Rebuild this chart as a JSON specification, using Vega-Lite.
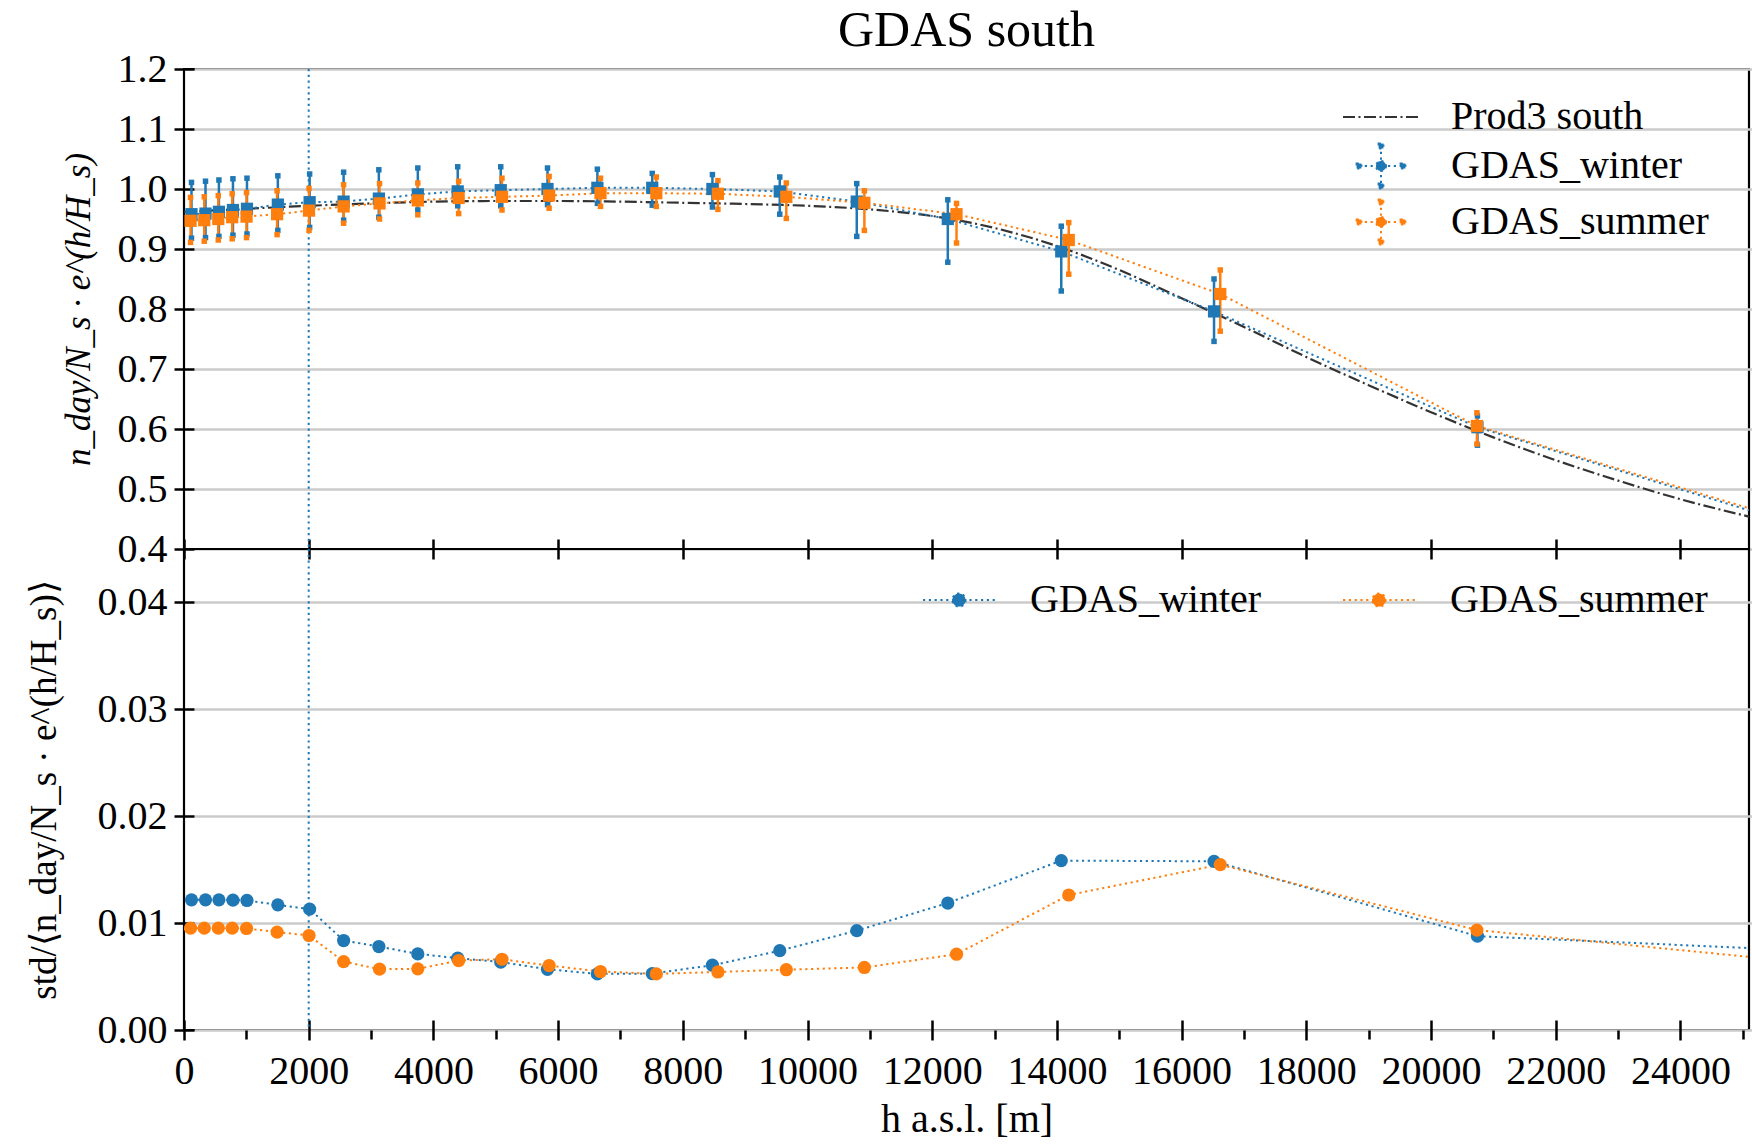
{
  "$schema": "https://vega.github.io/schema/vega-lite/v6.json",
  "autosize": {"type": "pad"},
  "padding": {"left": 23, "top": 5, "right": 3, "bottom": 0},
  "background": "white",
  "title": {"text": "GDAS south", "font": "Liberation Serif", "fontSize": 50, "fontWeight": "normal", "color": "black", "anchor": "middle", "frame": "group", "offset": -8},
  "spacing": 0,
  "bounds": "flush",
  "resolve": {"scale": {"color": "independent", "strokeDash": "independent"}, "legend": {"color": "independent"}},
  "config": {
    "view": {"stroke": "black", "strokeWidth": 2.2},
    "axis": {"domain": false, "labelFont": "Liberation Serif", "labelFontSize": 40, "labelColor": "black", "titleFont": "Liberation Serif", "titleFontSize": 38, "titleFontWeight": "normal", "titleColor": "black", "tickColor": "black", "tickWidth": 2.5, "tickSize": 20, "offset": -10, "grid": false, "gridColor": "#cbcbcb", "gridWidth": 2.5}
  },
  "datasets": {
    "prod3": [
      {"series": "Prod3 south", "h": 0, "v": 0.962},
      {"series": "Prod3 south", "h": 1000, "v": 0.967},
      {"series": "Prod3 south", "h": 2000, "v": 0.972},
      {"series": "Prod3 south", "h": 3000, "v": 0.976},
      {"series": "Prod3 south", "h": 4000, "v": 0.979},
      {"series": "Prod3 south", "h": 5000, "v": 0.980},
      {"series": "Prod3 south", "h": 6000, "v": 0.980},
      {"series": "Prod3 south", "h": 7000, "v": 0.979},
      {"series": "Prod3 south", "h": 8000, "v": 0.977},
      {"series": "Prod3 south", "h": 9000, "v": 0.975},
      {"series": "Prod3 south", "h": 10000, "v": 0.972},
      {"series": "Prod3 south", "h": 11000, "v": 0.966},
      {"series": "Prod3 south", "h": 12000, "v": 0.955},
      {"series": "Prod3 south", "h": 13000, "v": 0.935},
      {"series": "Prod3 south", "h": 14000, "v": 0.905},
      {"series": "Prod3 south", "h": 15000, "v": 0.865},
      {"series": "Prod3 south", "h": 16000, "v": 0.818},
      {"series": "Prod3 south", "h": 17000, "v": 0.770},
      {"series": "Prod3 south", "h": 18000, "v": 0.720},
      {"series": "Prod3 south", "h": 19000, "v": 0.673},
      {"series": "Prod3 south", "h": 20000, "v": 0.628},
      {"series": "Prod3 south", "h": 21000, "v": 0.586},
      {"series": "Prod3 south", "h": 22000, "v": 0.548},
      {"series": "Prod3 south", "h": 23000, "v": 0.514},
      {"series": "Prod3 south", "h": 24000, "v": 0.483},
      {"series": "Prod3 south", "h": 25100, "v": 0.454}
    ],
    "gdas": [
      {"series": "GDAS_winter", "h": 120, "v": 0.958, "lo": 0.918, "hi": 1.011, "s": 0.01218},
      {"series": "GDAS_winter", "h": 345, "v": 0.959, "lo": 0.919, "hi": 1.013, "s": 0.01218},
      {"series": "GDAS_winter", "h": 560, "v": 0.962, "lo": 0.921, "hi": 1.015, "s": 0.01218},
      {"series": "GDAS_winter", "h": 785, "v": 0.965, "lo": 0.923, "hi": 1.017, "s": 0.01215},
      {"series": "GDAS_winter", "h": 1010, "v": 0.967, "lo": 0.925, "hi": 1.018, "s": 0.01212},
      {"series": "GDAS_winter", "h": 1505, "v": 0.974, "lo": 0.931, "hi": 1.022, "s": 0.01171},
      {"series": "GDAS_winter", "h": 2015, "v": 0.978, "lo": 0.936, "hi": 1.025, "s": 0.01131},
      {"series": "GDAS_winter", "h": 2560, "v": 0.979, "lo": 0.948, "hi": 1.028, "s": 0.00837},
      {"series": "GDAS_winter", "h": 3125, "v": 0.984, "lo": 0.953, "hi": 1.032, "s": 0.00781},
      {"series": "GDAS_winter", "h": 3750, "v": 0.991, "lo": 0.965, "hi": 1.035, "s": 0.00712},
      {"series": "GDAS_winter", "h": 4390, "v": 0.996, "lo": 0.972, "hi": 1.037, "s": 0.00672},
      {"series": "GDAS_winter", "h": 5080, "v": 0.998, "lo": 0.972, "hi": 1.037, "s": 0.00636},
      {"series": "GDAS_winter", "h": 5830, "v": 1.000, "lo": 0.974, "hi": 1.035, "s": 0.00568},
      {"series": "GDAS_winter", "h": 6630, "v": 1.002, "lo": 0.976, "hi": 1.033, "s": 0.00525},
      {"series": "GDAS_winter", "h": 7510, "v": 1.002, "lo": 0.973, "hi": 1.026, "s": 0.00528},
      {"series": "GDAS_winter", "h": 8475, "v": 1.000, "lo": 0.970, "hi": 1.024, "s": 0.00606},
      {"series": "GDAS_winter", "h": 9555, "v": 0.996, "lo": 0.958, "hi": 1.020, "s": 0.00742},
      {"series": "GDAS_winter", "h": 10790, "v": 0.979, "lo": 0.921, "hi": 1.009, "s": 0.00930},
      {"series": "GDAS_winter", "h": 12250, "v": 0.950, "lo": 0.878, "hi": 0.982, "s": 0.01188},
      {"series": "GDAS_winter", "h": 14070, "v": 0.896, "lo": 0.830, "hi": 0.938, "s": 0.01585},
      {"series": "GDAS_winter", "h": 16520, "v": 0.796, "lo": 0.746, "hi": 0.850, "s": 0.01578},
      {"series": "GDAS_winter", "h": 20745, "v": 0.603, "lo": 0.573, "hi": 0.622, "s": 0.00878},
      {"series": "GDAS_winter", "h": 26500, "v": 0.420, "lo": 0.420, "hi": 0.420, "s": 0.00731},
      {"series": "GDAS_summer", "h": 105, "v": 0.947, "lo": 0.911, "hi": 0.986, "s": 0.00953},
      {"series": "GDAS_summer", "h": 325, "v": 0.948, "lo": 0.913, "hi": 0.987, "s": 0.00953},
      {"series": "GDAS_summer", "h": 550, "v": 0.950, "lo": 0.915, "hi": 0.989, "s": 0.00953},
      {"series": "GDAS_summer", "h": 773, "v": 0.953, "lo": 0.917, "hi": 0.992, "s": 0.00953},
      {"series": "GDAS_summer", "h": 1003, "v": 0.954, "lo": 0.919, "hi": 0.994, "s": 0.00950},
      {"series": "GDAS_summer", "h": 1493, "v": 0.958, "lo": 0.924, "hi": 0.997, "s": 0.00916},
      {"series": "GDAS_summer", "h": 2005, "v": 0.964, "lo": 0.931, "hi": 1.001, "s": 0.00884},
      {"series": "GDAS_summer", "h": 2560, "v": 0.971, "lo": 0.943, "hi": 1.007, "s": 0.00640},
      {"series": "GDAS_summer", "h": 3136, "v": 0.976, "lo": 0.950, "hi": 1.009, "s": 0.00569},
      {"series": "GDAS_summer", "h": 3750, "v": 0.981, "lo": 0.957, "hi": 1.010, "s": 0.00572},
      {"series": "GDAS_summer", "h": 4405, "v": 0.985, "lo": 0.959, "hi": 1.013, "s": 0.00650},
      {"series": "GDAS_summer", "h": 5100, "v": 0.987, "lo": 0.965, "hi": 1.018, "s": 0.00662},
      {"series": "GDAS_summer", "h": 5856, "v": 0.989, "lo": 0.968, "hi": 1.021, "s": 0.00603},
      {"series": "GDAS_summer", "h": 6680, "v": 0.993, "lo": 0.971, "hi": 1.018, "s": 0.00547},
      {"series": "GDAS_summer", "h": 7575, "v": 0.993, "lo": 0.971, "hi": 1.020, "s": 0.00525},
      {"series": "GDAS_summer", "h": 8563, "v": 0.992, "lo": 0.966, "hi": 1.014, "s": 0.00543},
      {"series": "GDAS_summer", "h": 9660, "v": 0.987, "lo": 0.951, "hi": 1.010, "s": 0.00564},
      {"series": "GDAS_summer", "h": 10912, "v": 0.977, "lo": 0.931, "hi": 0.997, "s": 0.00585},
      {"series": "GDAS_summer", "h": 12390, "v": 0.958, "lo": 0.910, "hi": 0.976, "s": 0.00709},
      {"series": "GDAS_summer", "h": 14190, "v": 0.915, "lo": 0.858, "hi": 0.944, "s": 0.01263},
      {"series": "GDAS_summer", "h": 16620, "v": 0.825, "lo": 0.763, "hi": 0.865, "s": 0.01547},
      {"series": "GDAS_summer", "h": 20736, "v": 0.605, "lo": 0.575, "hi": 0.627, "s": 0.00935},
      {"series": "GDAS_summer", "h": 26500, "v": 0.424, "lo": 0.424, "hi": 0.424, "s": 0.00604}
    ]
  },
  "vconcat": [
    {
      "width": 1565,
      "height": 480,
      "encoding": {
        "x": {"field": "h", "type": "quantitative", "scale": {"domain": [0, 25100], "nice": false, "zero": false},
          "axis": {"values": [0, 2000, 4000, 6000, 8000, 10000, 12000, 14000, 16000, 18000, 20000, 22000, 24000], "labels": false, "title": null, "grid": false}},
        "color": {"field": "series", "type": "nominal",
          "scale": {"domain": ["Prod3 south", "GDAS_winter", "GDAS_summer"], "range": ["#333333", "#1f77b4", "#ff7f0e"]},
          "legend": {
            "orient": "none", "legendX": 1176, "legendY": 27, "title": null, "direction": "vertical",
            "symbolSize": 1600, "labelOffset": 49, "rowPadding": 2, "padding": 0,
            "labelFont": "Liberation Serif", "labelFontSize": 40, "labelColor": "black", "labelLimit": 400,
            "encode": {"symbols": {"update": {
              "shape": {"signal": "datum.value === 'Prod3 south' ? 'M-1.9,0H1.9' : 'M-1.1,0H1.1M0,-1V1M0.25,0A0.25,0.25,0,1,1,-0.25,0A0.25,0.25,0,1,1,0.25,0ZM-1.22,-0.12h0.24v0.24h-0.24ZM0.98,-0.12h0.24v0.24h-0.24ZM-0.12,-1.12h0.24v0.24h-0.24ZM-0.12,0.88h0.24v0.24h-0.24Z'"},
              "strokeDash": {"signal": "datum.value === 'Prod3 south' ? [12,3.5,2,3.5] : [2.2,3.6]"},
              "stroke": {"signal": "datum.value === 'Prod3 south' ? '#333333' : datum.value === 'GDAS_winter' ? '#1f77b4' : '#ff7f0e'"},
              "fill": {"signal": "datum.value === 'Prod3 south' ? 'transparent' : datum.value === 'GDAS_winter' ? '#1f77b4' : '#ff7f0e'"},
              "strokeWidth": {"value": 2},
              "opacity": {"value": 1}
            }}}
          }}
      },
      "layer": [
        {
          "data": {"values": [{"h": 2000}]},
          "mark": {"type": "rule", "strokeWidth": 2, "strokeDash": [2.2, 3.6]},
          "encoding": {"color": {"value": "#1f77b4"}}
        },
        {
          "data": {"name": "prod3"},
          "mark": {"type": "line", "strokeWidth": 2.2, "interpolate": "monotone", "clip": true},
          "encoding": {
            "y": {"field": "v", "type": "quantitative", "scale": {"domain": [0.4, 1.2], "nice": false, "zero": false},
              "axis": {"values": [0.4, 0.5, 0.6, 0.7, 0.8, 0.9, 1.0, 1.1, 1.2], "format": ".1f", "grid": true, "labelPadding": 7, "title": "n_day/N_s · e^(h/H_s)", "titleFontStyle": "italic", "titleFontSize": 35, "titlePadding": 21}},
            "strokeDash": {"field": "series", "type": "nominal", "scale": {"domain": ["Prod3 south", "GDAS_winter", "GDAS_summer"], "range": [[12, 3.5, 2, 3.5], [2.2, 3.6], [2.2, 3.6]]}, "legend": null}
          }
        },
        {
          "data": {"name": "gdas"},
          "mark": {"type": "line", "strokeWidth": 2, "clip": true},
          "encoding": {
            "y": {"field": "v", "type": "quantitative", "scale": {"domain": [0.4, 1.2], "nice": false, "zero": false},
              "axis": {"values": [0.4, 0.5, 0.6, 0.7, 0.8, 0.9, 1.0, 1.1, 1.2], "format": ".1f", "grid": true, "labelPadding": 7, "title": "n_day/N_s · e^(h/H_s)", "titleFontStyle": "italic", "titleFontSize": 35, "titlePadding": 21}},
            "strokeDash": {"field": "series", "type": "nominal", "legend": null}
          }
        },
        {
          "data": {"name": "gdas"},
          "mark": {"type": "rule", "strokeWidth": 2.5, "clip": true},
          "encoding": {
            "y": {"field": "lo", "type": "quantitative", "scale": {"domain": [0.4, 1.2], "nice": false, "zero": false},
              "axis": {"values": [0.4, 0.5, 0.6, 0.7, 0.8, 0.9, 1.0, 1.1, 1.2], "format": ".1f", "grid": true, "labelPadding": 7, "title": "n_day/N_s · e^(h/H_s)", "titleFontStyle": "italic", "titleFontSize": 35, "titlePadding": 21}},
            "y2": {"field": "hi"}
          }
        },
        {
          "data": {"name": "gdas"},
          "mark": {"type": "point", "shape": "square", "filled": true, "size": 30, "opacity": 1, "clip": true},
          "encoding": {"y": {"field": "lo", "type": "quantitative", "scale": {"domain": [0.4, 1.2], "nice": false, "zero": false},
              "axis": {"values": [0.4, 0.5, 0.6, 0.7, 0.8, 0.9, 1.0, 1.1, 1.2], "format": ".1f", "grid": true, "labelPadding": 7, "title": "n_day/N_s · e^(h/H_s)", "titleFontStyle": "italic", "titleFontSize": 35, "titlePadding": 21}}}
        },
        {
          "data": {"name": "gdas"},
          "mark": {"type": "point", "shape": "square", "filled": true, "size": 30, "opacity": 1, "clip": true},
          "encoding": {"y": {"field": "hi", "type": "quantitative", "scale": {"domain": [0.4, 1.2], "nice": false, "zero": false},
              "axis": {"values": [0.4, 0.5, 0.6, 0.7, 0.8, 0.9, 1.0, 1.1, 1.2], "format": ".1f", "grid": true, "labelPadding": 7, "title": "n_day/N_s · e^(h/H_s)", "titleFontStyle": "italic", "titleFontSize": 35, "titlePadding": 21}}}
        },
        {
          "data": {"name": "gdas"},
          "mark": {"type": "point", "shape": "square", "filled": true, "size": 150, "opacity": 1, "clip": true},
          "encoding": {"y": {"field": "v", "type": "quantitative", "scale": {"domain": [0.4, 1.2], "nice": false, "zero": false},
              "axis": {"values": [0.4, 0.5, 0.6, 0.7, 0.8, 0.9, 1.0, 1.1, 1.2], "format": ".1f", "grid": true, "labelPadding": 7, "title": "n_day/N_s · e^(h/H_s)", "titleFontStyle": "italic", "titleFontSize": 35, "titlePadding": 21}}}
        }
      ]
    },
    {
      "width": 1565,
      "height": 481,
      "encoding": {
        "x": {"field": "h", "type": "quantitative", "scale": {"domain": [0, 25100], "nice": false, "zero": false},
          "axis": {"values": [0, 1000, 2000, 3000, 4000, 5000, 6000, 7000, 8000, 9000, 10000, 11000, 12000, 13000, 14000, 15000, 16000, 17000, 18000, 19000, 20000, 21000, 22000, 23000, 24000, 25000],
            "format": "d", "labelExpr": "datum.value % 2000 === 0 ? datum.label : ''", "labelFlush": false, "labelPadding": 11,
            "tickDash": {"condition": {"test": "datum.value % 2000 !== 0", "value": [0, 10, 9, 40]}, "value": [40, 0]},
            "title": "h a.s.l. [m]", "titleFontSize": 40, "titlePadding": 8, "grid": false}},
        "y": {"field": "s", "type": "quantitative", "scale": {"domain": [0, 0.045], "nice": false, "zero": false},
          "axis": {"values": [0, 0.01, 0.02, 0.03, 0.04], "format": ".2f", "grid": true, "labelPadding": 7, "title": "std/⟨n_day/N_s · e^(h/H_s)⟩", "titleFontSize": 37, "titlePadding": 34}},
        "color": {"field": "series", "type": "nominal",
          "scale": {"domain": ["GDAS_winter", "GDAS_summer"], "range": ["#1f77b4", "#ff7f0e"]},
          "legend": {
            "orient": "none", "legendX": 754, "legendY": 30, "title": null, "direction": "horizontal",
            "symbolSize": 1600, "labelOffset": 50, "columnPadding": 77, "padding": 0,
            "labelFont": "Liberation Serif", "labelFontSize": 40, "labelColor": "black", "labelLimit": 400,
            "encode": {"symbols": {"update": {
              "shape": {"value": "M-1.8,0H1.8M0.33,0A0.33,0.33,0,1,1,-0.33,0A0.33,0.33,0,1,1,0.33,0Z"},
              "strokeDash": {"value": [2.2, 3.6]},
              "stroke": {"signal": "datum.value === 'GDAS_winter' ? '#1f77b4' : '#ff7f0e'"},
              "fill": {"signal": "datum.value === 'GDAS_winter' ? '#1f77b4' : '#ff7f0e'"},
              "strokeWidth": {"value": 2},
              "opacity": {"value": 1}
            }}}
          }}
      },
      "layer": [
        {
          "data": {"values": [{"h": 2000, "s": 0}]},
          "mark": {"type": "rule", "strokeWidth": 2, "strokeDash": [2.2, 3.6]},
          "encoding": {"color": {"value": "#1f77b4"}, "y": {"value": 0}, "y2": {"value": 481}}
        },
        {
          "data": {"name": "gdas"},
          "mark": {"type": "line", "strokeWidth": 2, "strokeDash": [2.2, 3.6], "clip": true}
        },
        {
          "data": {"name": "gdas"},
          "mark": {"type": "point", "shape": "circle", "filled": true, "size": 175, "opacity": 1, "clip": true}
        }
      ]
    }
  ]
}
